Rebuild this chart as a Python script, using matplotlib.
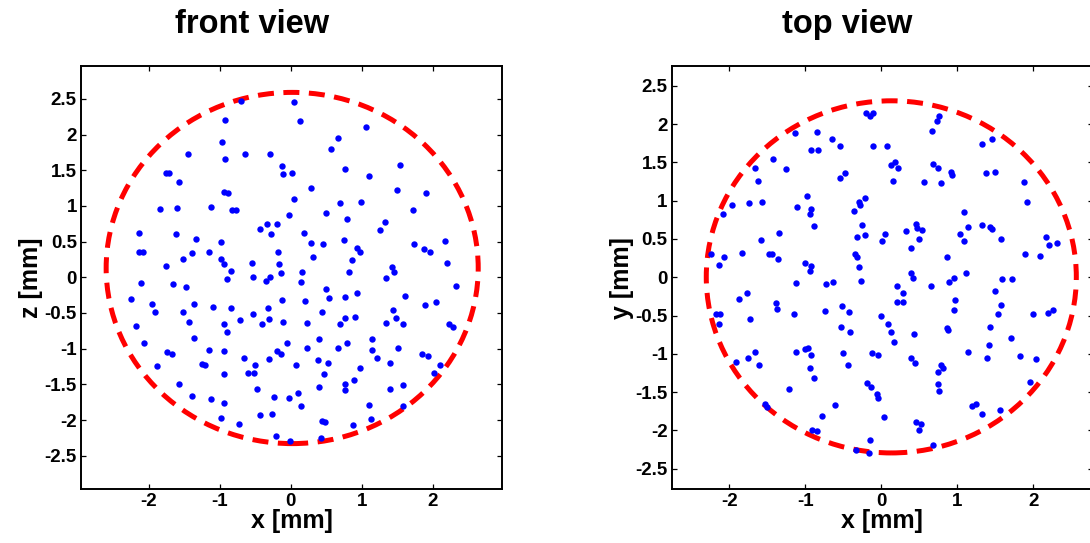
import numpy as np
import matplotlib
matplotlib.use('Agg')
import matplotlib.pyplot as plt
from matplotlib.patches import Ellipse
from matplotlib.ticker import FormatStrFormatter, MultipleLocator

plt.rcParams['font.family'] = ['Liberation Sans', 'DejaVu Sans']
plt.rcParams['font.weight'] = 'bold'
plt.rcParams['axes.unicode_minus'] = False

# front view: (x, z) positions in mm
front_x = [
    -0.70, 0.05, -0.93, -0.97, -1.45, -0.64, -0.29, -0.93, -0.12, -0.11, 0.02, -1.76, -1.72,
    -1.58, -0.94, -0.88, 0.05, -1.85, -1.61, -1.12, -0.83, -0.77, -0.03, -0.34, -0.19, -0.43,
    -0.28, -2.14, -1.62, -1.34, -0.99, -2.14, -2.09, -1.39, -1.15, -0.18, -1.52, -0.98, -0.94,
    -0.55, -0.16, -1.76, -0.84, -0.14, -0.53, -0.29, -0.90,
    0.13, 1.06, 0.66, 0.57, 1.54, 0.76, 1.11, 0.28, 1.50, 1.91, 0.69, 0.99, 0.50, 1.73, 0.79,
    1.33, 1.26, 0.19, 0.29, 0.46, 0.75, 1.74, 2.18, 0.93, 0.97, 1.88, 1.97, 0.32, 0.87, 2.21,
    1.43, 1.46, 0.16, 0.82, 1.34,
    -0.35, -2.12, -1.66, -1.48, -2.25, -1.96, -1.92, -1.37, -1.10, -0.85, -0.13, -0.53, -0.32,
    -0.31, -0.11, -1.52, -1.44, -2.18, -0.94, -0.72, -0.40, -0.90, -1.36, -2.07, -0.05, -1.74,
    -1.67, -1.15, -0.94, -0.20, -0.14, -0.66, -0.31, -1.89, -1.25, -1.21, -0.51, 0.07, -0.94,
    -0.60, -0.52, -1.58, -0.47, -1.39, -1.12, -0.94, -0.24, -0.03, -0.99, -0.44, -0.26, -0.73,
    -0.21, -0.01,
    0.14, 0.50, 0.54, 0.77, 0.94, 1.61, 2.33, 0.20, 0.44, 1.44, 1.48, 1.90, 2.05, 0.76, 0.91,
    0.70, 0.23, 1.35, 1.58, 2.23, 2.29, 0.40, 0.79, 1.15, 0.23, 0.67, 1.15, 1.51, 1.21, 1.85,
    1.93, 0.39, 0.53, 1.40, 0.97, 2.11, 2.02, 0.47, 0.89, 0.77, 0.77, 0.40, 1.40, 1.59, 0.10,
    0.15, 1.11, 1.59, 1.13, 0.44, 0.48, 0.88, 0.43,
]
front_z = [
    2.47, 2.45, 2.21, 1.89, 1.73, 1.73, 1.73, 1.65, 1.56, 1.45, 1.46, 1.46, 1.46,
    1.33, 1.20, 1.18, 1.10, 0.96, 0.97, 0.98, 0.94, 0.94, 0.87, 0.75, 0.75, 0.68,
    0.60, 0.62, 0.61, 0.53, 0.50, 0.36, 0.36, 0.34, 0.36, 0.36, 0.25, 0.25, 0.18,
    0.20, 0.19, 0.16, 0.09, 0.06, 0.01, 0.01, -0.03,
    2.19, 2.11, 1.95, 1.80, 1.57, 1.52, 1.42, 1.25, 1.22, 1.18, 1.04, 1.06, 0.90, 0.94, 0.82,
    0.77, 0.66, 0.62, 0.48, 0.47, 0.52, 0.47, 0.51, 0.41, 0.35, 0.39, 0.35, 0.29, 0.24, 0.20,
    0.15, 0.08, 0.08, 0.07, -0.01,
    -0.05, -0.08, -0.10, -0.14, -0.30, -0.38, -0.48, -0.38, -0.42, -0.43, -0.32, -0.52, -0.43,
    -0.58, -0.63, -0.49, -0.63, -0.68, -0.65, -0.60, -0.66, -0.77, -0.85, -0.92, -0.92, -1.04,
    -1.07, -1.02, -1.03, -1.03, -1.08, -1.13, -1.15, -1.24, -1.22, -1.23, -1.23, -1.23, -1.36,
    -1.34, -1.34, -1.50, -1.56, -1.66, -1.71, -1.76, -1.68, -1.69, -1.97, -1.93, -1.92, -2.06,
    -2.23, -2.30,
    -0.06, -0.16, -0.29, -0.27, -0.22, -0.26, -0.12, -0.33, -0.48, -0.46, -0.57, -0.39, -0.34, -0.57, -0.56,
    -0.66, -0.64, -0.64, -0.65, -0.66, -0.69, -0.87, -0.92, -0.87, -0.99, -0.99, -1.02, -0.99, -1.13, -1.07,
    -1.10, -1.16, -1.20, -1.20, -1.27, -1.23, -1.34, -1.36, -1.44, -1.49, -1.58, -1.54, -1.57, -1.51, -1.62,
    -1.81, -1.79, -1.80, -1.98, -2.02, -2.03, -2.07, -2.25,
]

# top view: (x, y) positions in mm
top_x = [
    -0.20, -0.15, -0.11, -1.14, -0.85, -0.65, -0.55, -0.11, -0.93, -0.83, -1.43, -1.25, -1.66,
    -0.48, -0.55, -1.62, -0.98, -0.21, -0.30, -0.28, -1.96, -1.74, -1.57, -1.11, -0.93, -0.94,
    -0.36, -2.08, -0.89, -0.25, -0.22, -0.32, 0.05, 0.01, -1.35, -1.58, -2.24, -2.07, -1.84,
    -1.48, -1.44, -1.36, -0.35, -0.32, -0.29, -2.14, -1.00, -0.93, -0.94,
    0.76, 0.73, 0.66, 1.33, 1.45, 0.07, 0.12, 0.18, 0.22, 0.68, 0.75, 0.92, 0.93, 1.38, 1.49,
    0.15, 0.56, 0.78, 1.87, 1.91, 1.09, 0.46, 0.47, 0.53, 0.32, 0.49, 1.14, 1.04, 1.09, 1.32,
    1.43, 1.46, 1.57, 0.39, 0.86, 2.16, 2.21, 2.31, 1.89, 2.09, 0.39, 0.42, 0.95, 1.11,
    -1.13, -0.73, -0.64, -0.27, -1.88, -1.77, -1.39, -1.37, -2.18, -2.12, -2.14, -1.73, -1.15,
    -0.74, -0.52, -0.43, -0.01, -0.53, -0.41, -1.67, -1.92, -1.76, -1.61, -1.12, -1.00, -0.97,
    -0.93, -0.94, -0.89, -0.51, -0.44, -0.12, -0.04, -1.22, -0.19, -0.14, -0.06, -0.05, -1.53,
    -1.51, -0.61, -0.78, 0.04, -0.91, -0.85, -0.15, -0.33, -0.17,
    0.89, 1.59, 1.72, 0.20, 0.65, 0.28, 0.21, 0.28, 1.50, 0.97, 0.96, 1.57, 1.53, 2.00, 2.19,
    2.26, 0.09, 0.12, 0.16, 0.43, 0.86, 0.88, 1.43, 1.71, 1.41, 1.14, 0.39, 0.44, 1.39, 1.83,
    2.03, 0.78, 0.81, 0.74, 0.74, 0.76, 1.95, 1.19, 1.25, 1.33, 1.56, 0.45, 0.52, 0.49, 0.68,
]
top_y = [
    2.15, 2.11, 2.15, 1.88, 1.90, 1.81, 1.71, 1.72, 1.66, 1.66, 1.54, 1.41, 1.43,
    1.36, 1.30, 1.26, 1.06, 1.04, 0.98, 0.95, 0.94, 0.97, 0.98, 0.92, 0.89, 0.82,
    0.86, 0.82, 0.67, 0.68, 0.55, 0.52, 0.56, 0.47, 0.58, 0.49, 0.30, 0.26, 0.32,
    0.31, 0.31, 0.24, 0.31, 0.26, 0.13, 0.16, 0.18, 0.15, 0.08,
    2.11, 2.04, 1.91, 1.74, 1.80, 1.72, 1.47, 1.51, 1.43, 1.48, 1.43, 1.37, 1.34, 1.36, 1.38,
    1.26, 1.25, 1.23, 1.25, 0.98, 0.85, 0.70, 0.64, 0.62, 0.61, 0.50, 0.66, 0.57, 0.47, 0.68,
    0.66, 0.63, 0.50, 0.38, 0.27, 0.52, 0.42, 0.45, 0.30, 0.28, 0.05, -0.01, -0.01, 0.06,
    -0.08, -0.09, -0.06, -0.05, -0.28, -0.21, -0.34, -0.41, -0.48, -0.48, -0.61, -0.54, -0.48,
    -0.44, -0.38, -0.45, -0.50, -0.65, -0.71, -0.97, -1.11, -1.06, -1.15, -0.97, -0.94, -0.93,
    -1.02, -1.18, -1.32, -0.99, -1.14, -0.99, -1.01, -1.46, -1.38, -1.44, -1.53, -1.58, -1.65,
    -1.70, -1.67, -1.81, -1.83, -2.00, -2.01, -2.13, -2.26, -2.30,
    -0.06, -0.02, -0.02, -0.11, -0.11, -0.21, -0.32, -0.32, -0.18, -0.30, -0.43, -0.36, -0.48, -0.48, -0.47,
    -0.43, -0.61, -0.72, -0.84, -0.74, -0.66, -0.69, -0.65, -0.79, -0.89, -0.97, -1.05, -1.12, -1.05, -1.03,
    -1.07, -1.15, -1.19, -1.24, -1.40, -1.48, -1.37, -1.68, -1.66, -1.78, -1.73, -1.89, -1.92, -2.00, -2.19,
]

# dashed outline: centre and semi-axes (mm)
front_ring = (0.02, 0.13, 2.625, 2.46)
top_ring = (0.13, 0.005, 2.435, 2.30)

fig = plt.figure(figsize=(10.9, 5.43), dpi=100)

panels = [
    ([81 / 1090, 0.0989, 0.3862, 0.7796], front_x, front_z, front_ring,
     (-2.96, 2.98), (-2.97, 2.96), 'z [mm]', 'front view', 252),
    ([671.7 / 1090, 0.0989, 0.3862, 0.7796], top_x, top_y, top_ring,
     (-2.76, 2.78), (-2.77, 2.76), 'y [mm]', 'top view', 847),
]

for rect, xs, ys, ring, xl, yl, ylab, title, tx in panels:
    ax = fig.add_axes(rect)
    cx, cy, a, b = ring
    ax.add_patch(Ellipse((cx, cy), 2 * a, 2 * b, fill=False, edgecolor='red',
                         linewidth=3.6, linestyle=(0, (3.2, 1.9)), zorder=1))
    ax.plot(xs, ys, 'o', color='blue', markersize=4.6, markeredgewidth=0, zorder=2)
    ax.set_xlim(*xl)
    ax.set_ylim(*yl)
    ax.xaxis.set_major_locator(MultipleLocator(1))
    ax.yaxis.set_major_locator(MultipleLocator(0.5))
    ax.xaxis.set_major_formatter(FormatStrFormatter('%g'))
    ax.yaxis.set_major_formatter(FormatStrFormatter('%g'))
    ax.tick_params(direction='in', length=3.6, width=0.9, top=True, right=True,
                   labelsize=13.5, pad=3)
    for lbl in ax.get_xticklabels() + ax.get_yticklabels():
        lbl.set_fontweight('bold')
    for sp in ax.spines.values():
        sp.set_linewidth(1.4)
    ax.set_xlabel('x [mm]', fontsize=18, fontweight='bold', labelpad=-1)
    ax.set_ylabel(ylab, fontsize=18, fontweight='bold', labelpad=1)
    fig.text(tx / 1090, 1 - 33 / 543, title, ha='center', va='baseline',
             fontsize=23.5, fontweight='bold')

fig.savefig('out.png', dpi=100)
